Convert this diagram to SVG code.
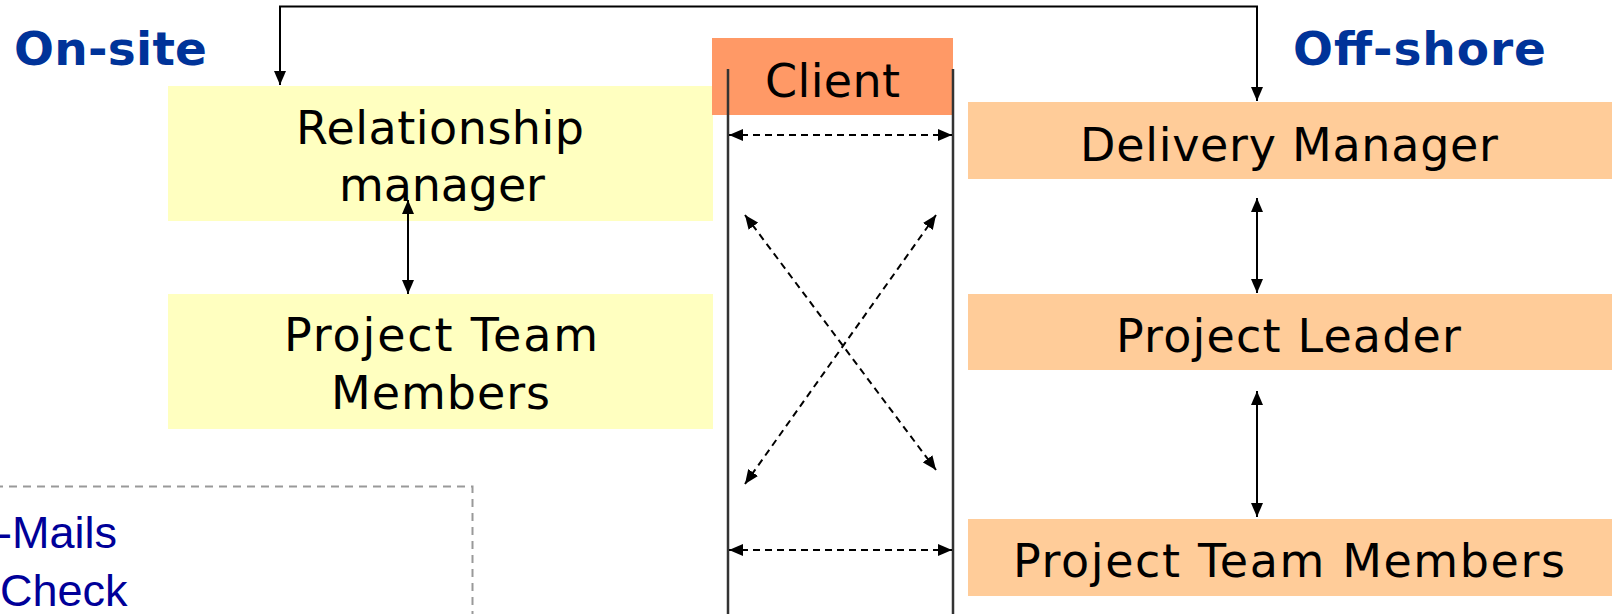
<svg xmlns="http://www.w3.org/2000/svg" width="1612" height="614" viewBox="0 0 1612 614">
<style>
.lbl{font-family:"DejaVu Sans","Verdana",sans-serif;font-size:46px;fill:#000;text-anchor:start}
.ttl{font-family:"DejaVu Sans","Verdana",sans-serif;font-size:47px;font-weight:bold;fill:#003399}
.note{font-family:"Liberation Sans",Arial,sans-serif;font-size:45px;fill:#000099}
.on{fill:#FFFFC0}
.off{fill:#FFCC99}
.solid{stroke:#000;stroke-width:2;fill:none}
.dash{stroke:#000;stroke-width:2;fill:none;stroke-dasharray:7 5}
.rail{stroke:#333;stroke-width:2.5;fill:none}
</style>
<defs>
<marker id="ah" viewBox="0 0 14 12" refX="14" refY="6" markerWidth="14" markerHeight="12" markerUnits="userSpaceOnUse" orient="auto-start-reverse">
<path d="M0,0 L14,6 L0,12 z" fill="#000"/>
</marker>
</defs>

<rect width="1612" height="614" fill="#fff"/>

<text class="ttl" x="14" y="65" textLength="193" lengthAdjust="spacing">On-site</text>
<text class="ttl" x="1293" y="65" textLength="253" lengthAdjust="spacing">Off-shore</text>

<g id="relationship-manager">
<rect class="on" x="168" y="86" width="545" height="135"/>
<text class="lbl" x="296" y="144" textLength="288" lengthAdjust="spacing">Relationship</text>
<text class="lbl" x="339" y="201" textLength="206" lengthAdjust="spacing">manager</text>
</g>

<g id="onsite-team">
<rect class="on" x="168" y="294" width="545" height="135"/>
<text class="lbl" x="284" y="351" textLength="314" lengthAdjust="spacing">Project Team</text>
<text class="lbl" x="331" y="409" textLength="219" lengthAdjust="spacing">Members</text>
</g>

<g id="client">
<rect x="712" y="38" width="241" height="77" fill="#FF9966"/>
<text class="lbl" x="765" y="97" textLength="135" lengthAdjust="spacing">Client</text>
</g>

<g id="delivery-manager">
<rect class="off" x="968" y="102" width="644" height="77"/>
<text class="lbl" x="1080" y="161" textLength="418" lengthAdjust="spacing">Delivery Manager</text>
</g>

<g id="project-leader">
<rect class="off" x="968" y="294" width="644" height="76"/>
<text class="lbl" x="1116" y="352" textLength="345" lengthAdjust="spacing">Project Leader</text>
</g>

<g id="offshore-team">
<rect class="off" x="968" y="519" width="644" height="77"/>
<text class="lbl" x="1013" y="577" textLength="552" lengthAdjust="spacing">Project Team Members</text>
</g>

<g id="channels">
<path d="M-5,486.5 H472.5 V614" fill="none" stroke="#999" stroke-width="2" stroke-dasharray="8 6"/>
<text class="note" x="-3" y="548">-Mails</text>
<text class="note" x="0" y="606">Check</text>
</g>

<g id="connectors">
<line class="rail" x1="728" y1="69" x2="728" y2="614"/>
<line class="rail" x1="953" y1="69" x2="953" y2="614"/>
<polyline class="solid" points="280,85 280,6.5 1257,6.5 1257,101" marker-start="url(#ah)" marker-end="url(#ah)"/>
<line class="solid" x1="408" y1="200" x2="408" y2="294" marker-start="url(#ah)" marker-end="url(#ah)"/>
<line class="solid" x1="1257" y1="198" x2="1257" y2="293" marker-start="url(#ah)" marker-end="url(#ah)"/>
<line class="solid" x1="1257" y1="391" x2="1257" y2="517" marker-start="url(#ah)" marker-end="url(#ah)"/>
<line class="dash" x1="729" y1="135" x2="952" y2="135" marker-start="url(#ah)" marker-end="url(#ah)"/>
<line class="dash" x1="729" y1="550" x2="952" y2="550" marker-start="url(#ah)" marker-end="url(#ah)"/>
<line class="dash" x1="745" y1="215" x2="936" y2="470" marker-start="url(#ah)" marker-end="url(#ah)"/>
<line class="dash" x1="936" y1="215" x2="745" y2="484" marker-start="url(#ah)" marker-end="url(#ah)"/>
</g>
</svg>
